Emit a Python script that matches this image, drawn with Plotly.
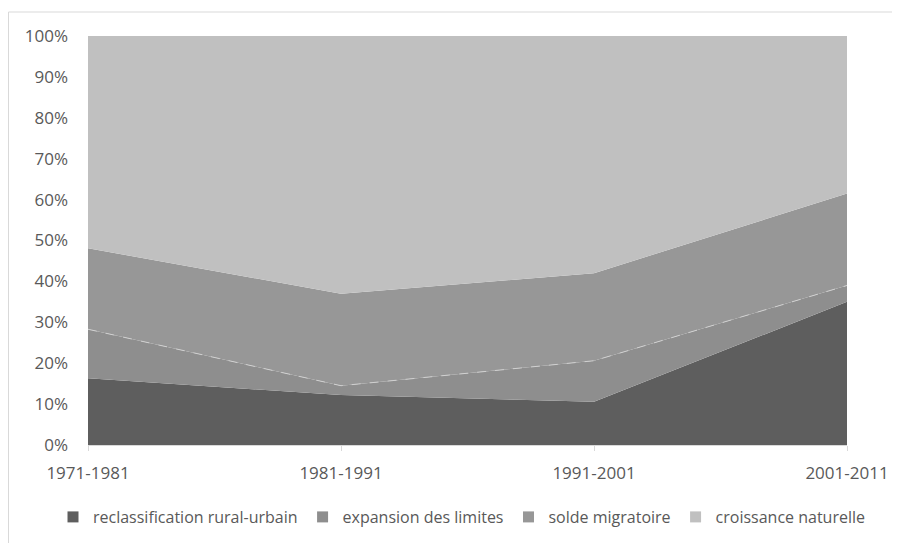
import plotly.graph_objects as go
import numpy as np

periods = ["1971-1981", "1981-1991", "1991-2001", "2001-2011"]
reclassification = [16.3, 12.2, 10.6, 35.0]
expansion = [12.0, 2.3, 10.0, 4.0]
solde = [19.8, 22.5, 21.4, 22.5]
croissance = [51.9, 63.0, 58.0, 38.5]

names = ["reclassification rural-urbain", "expansion des limites", "solde migratoire", "croissance naturelle"]
series = [reclassification, expansion, solde, croissance]
colors = ["#5e5e5e", "#8e8e8e", "#979797", "#c0c0c0"]

FONT = "Open Sans, Liberation Sans, sans-serif"
fig = go.Figure()
for name, vals, col in zip(names, series, colors):
    fig.add_trace(go.Scatter(
        x=periods, y=vals, name=name, stackgroup="one", mode="lines",
        line=dict(width=0, color=col), fillcolor=col, showlegend=False,
    ))

# light dashed boundary between expansion and solde
boundary = np.array(reclassification) + np.array(expansion)
fig.add_trace(go.Scatter(x=periods, y=boundary, mode="lines", showlegend=False,
                         line=dict(color="#d0d0d0", width=1, dash="dash"), hoverinfo="skip"))

# legend entries with square markers
for name, col in zip(names, colors):
    fig.add_trace(go.Scatter(x=[None], y=[None], mode="markers", name=name,
                             marker=dict(symbol="square", size=11, color=col)))

L, R, T, B = 80, 61, 28, 106
W, H = 900, 543
pw, ph = W - L - R, H - T - B

fig.update_layout(
    width=W, height=H,
    margin=dict(l=L, r=R, t=T, b=B, autoexpand=False),
    paper_bgcolor="white", plot_bgcolor="white",
    font=dict(family=FONT, size=17, color="#595959"),
    showlegend=True,
    legend=dict(orientation="h", x=(45 - L) / pw, xanchor="left", y=(H - B - 509) / ph, yanchor="middle",
                font=dict(family=FONT, size=16, color="#595959"), itemwidth=30, tracegroupgap=0,
                traceorder="normal"),
    shapes=[dict(type="rect", xref="paper", yref="paper",
                 x0=(0.5 - L) / pw, x1=(W + 10 - L) / pw,
                 y0=(H - B - (H + 20)) / ph, y1=(H - B - 4) / ph,
                 line=dict(color="#d9d9d9", width=1))],
)
fig.update_xaxes(type="category", range=[0, 3], showgrid=False, showline=True,
                 linecolor="#d9d9d9", ticks="outside", ticklen=5, tickcolor="#d9d9d9",
                 ticklabelstandoff=8, tickfont=dict(size=17, color="#595959"))
fig.update_yaxes(range=[0, 100], dtick=10, ticksuffix="%", showgrid=False, showline=False,
                 zeroline=False, ticklabelstandoff=19, tickfont=dict(size=17, color="#595959"))

fig.write_html("out.html")
